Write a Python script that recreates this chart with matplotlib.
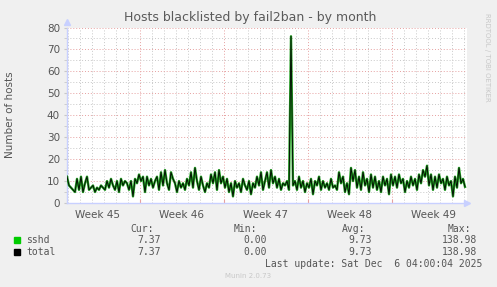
import matplotlib.pyplot as plt
import numpy as np

# data (one sample every 4 hours, days since start of week 45)
start_day = 0.92
step_days = 1.0 / 6
sshd = [
    12, 8, 7, 6, 5, 11, 6, 12, 5, 9, 12, 6, 7, 8, 5, 7, 6, 8, 7, 6,
    10, 7, 11, 8, 6, 10, 5, 11, 8, 10, 9, 6, 10, 3, 11, 9, 13, 10, 12, 5,
    12, 8, 11, 7, 10, 12, 6, 14, 8, 15, 9, 6, 14, 11, 9, 5, 10, 7, 9, 6,
    11, 8, 14, 7, 16, 10, 6, 12, 8, 5, 9, 7, 13, 9, 14, 6, 15, 9, 12, 7,
    11, 5, 9, 3, 10, 7, 9, 5, 11, 8, 6, 10, 4, 9, 7, 12, 8, 14, 6, 10,
    14, 7, 15, 9, 12, 7, 11, 6, 9, 8, 10, 6, 76, 8, 10, 6, 12, 7, 10, 5,
    9, 7, 11, 4, 10, 8, 12, 6, 10, 7, 9, 6, 11, 7, 8, 6, 14, 9, 12, 5,
    9, 4, 16, 10, 15, 7, 12, 6, 14, 8, 11, 5, 13, 7, 12, 6, 10, 5, 12, 8,
    11, 4, 13, 8, 12, 7, 13, 9, 11, 5, 10, 7, 12, 8, 11, 6, 13, 9, 15, 12,
    17, 8, 13, 6, 12, 7, 13, 9, 11, 6, 12, 8, 10, 3, 12, 7, 16, 9, 11, 7.37,
]
total = list(sshd)

week_labels = ["Week 45", "Week 46", "Week 47", "Week 48", "Week 49"]
legend_names = ["sshd", "total"]
legend_colors = ["#00cc00", "#000000"]
cur = ["7.37", "7.37"]
vmin = ["0.00", "0.00"]
avg = ["9.73", "9.73"]
vmax = ["138.98", "138.98"]

W, H = 497, 287
fig = plt.figure(figsize=(W / 100, H / 100), dpi=100, facecolor="#f0f0f0")
ax = fig.add_axes([67 / W, 1 - 203 / H, 400 / W, 175.5 / H])
ax.set_facecolor("white")

x = start_day + np.arange(len(sshd)) * step_days
ax.plot(x, sshd, color="#22a022", lw=1.7, zorder=3)
ax.plot(x, total, color="black", lw=0.6, zorder=4)

ax.set_xlim(start_day, start_day + 400 / 12)
ax.set_ylim(0, 80)

# grid: minor gray dotted, major red dotted
ax.set_xticks(np.arange(1, 35), minor=True)
ax.set_xticks([7, 14, 21, 28])
ax.set_xticklabels([])
ax.set_yticks(np.arange(0, 81, 10))
ax.set_yticks(np.arange(5, 80, 10), minor=True)
ax.grid(which="minor", color="#c8c8c8", ls=(0, (1, 2)), lw=0.7)
ax.grid(which="major", color="#e6a0a0", ls=(0, (1, 2)), lw=0.7)
ax.set_axisbelow(True)
ax.tick_params(axis="x", which="major", length=3, color="#e6a0a0", direction="in")
ax.tick_params(axis="x", which="minor", length=0)
ax.tick_params(axis="y", which="both", length=2, color="#c8c8c8", labelsize=7.5,
               labelcolor="#555555", pad=3)

for i, lab in enumerate(week_labels):
    ax.text(3.5 + 7 * i, -3.3, lab, ha="center", va="top", fontsize=7.5,
            color="#555555", clip_on=False)

for s in ["top", "right"]:
    ax.spines[s].set_visible(False)
for s in ["left", "bottom"]:
    ax.spines[s].set_color("#c8d0ff")
    ax.spines[s].set_linewidth(1)
ax.plot(1, 0, ">", color="#c8d0ff", ms=4, transform=ax.transAxes, clip_on=False)
ax.plot(0, 1.03, "^", color="#c8d0ff", ms=4, transform=ax.transAxes, clip_on=False)

fig.text(250 / W, 1 - 18 / H, "Hosts blacklisted by fail2ban - by month",
         ha="center", va="center", fontsize=9, color="#5a5a5a")
fig.text(10 / W, 1 - 115 / H, "Number of hosts", rotation=90, ha="center",
         va="center", fontsize=7.5, color="#555555")
fig.text(487 / W, 1 - 57 / H, "RRDTOOL / TOBI OETIKER", rotation=270,
         ha="center", va="center", fontsize=5, color="#c8c8c8")

mono = dict(family="DejaVu Sans Mono", fontsize=7, color="#555555", va="center")
fig.text(154 / W, 1 - 229 / H, "Cur:", ha="right", **mono)
fig.text(257 / W, 1 - 229 / H, "Min:", ha="right", **mono)
fig.text(365 / W, 1 - 229 / H, "Avg:", ha="right", **mono)
fig.text(471 / W, 1 - 229 / H, "Max:", ha="right", **mono)
for i, name in enumerate(legend_names):
    yy = 1 - (240 + 12 * i) / H
    fig.patches.append(plt.Rectangle((14 / W, yy - 3 / H), 6 / W, 6 / H,
                                     transform=fig.transFigure,
                                     color=legend_colors[i], figure=fig))
    fig.text(26 / W, yy, name, ha="left", **mono)
    fig.text(161 / W, yy, cur[i], ha="right", **mono)
    fig.text(267 / W, yy, vmin[i], ha="right", **mono)
    fig.text(372 / W, yy, avg[i], ha="right", **mono)
    fig.text(477 / W, yy, vmax[i], ha="right", **mono)
fig.text(482 / W, 1 - 264 / H, "Last update: Sat Dec  6 04:00:04 2025",
         ha="right", **mono)
fig.text(248 / W, 1 - 276 / H, "Munin 2.0.73", ha="center", va="center",
         fontsize=5, color="#c8c8c8")

fig.savefig("out.png", dpi=100, facecolor=fig.get_facecolor())
